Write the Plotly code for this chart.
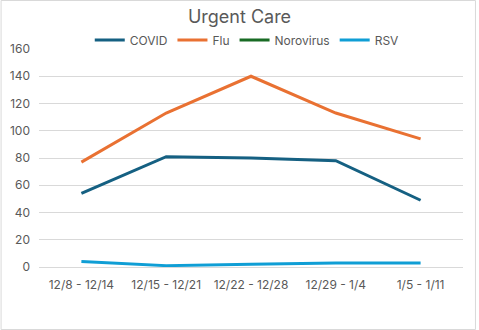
import plotly.graph_objects as go

# Weekly urgent care visit counts by illness
weeks = ["12/8 - 12/14", "12/15 - 12/21", "12/22 - 12/28", "12/29 - 1/4", "1/5 - 1/11"]
covid = [54, 81, 80, 78, 49]
flu = [77, 113, 140, 113, 94]
norovirus = [None, None, None, None, None]
rsv = [4, 1, 2, 3, 3]
y_ticks = [0, 20, 40, 60, 80, 100, 120, 140, 160]

series = [
    ("COVID", covid, "#156082"),
    ("Flu", flu, "#E97132"),
    ("Norovirus", norovirus, "#196B24"),
    ("RSV", rsv, "#0F9ED5"),
]

font_family = "Inter, Open Sans, sans-serif"
text_color = "#595959"
grid_color = "#D9D9D9"

fig = go.Figure()
for name, values, color in series:
    fig.add_trace(go.Scatter(
        x=weeks, y=values, name=name, mode="lines",
        line=dict(color=color, width=3),
        connectgaps=False,
    ))

W, H = 479, 330
ml, mr, mt, mb = 38.5, 15.5, 49, 63
pw, ph = W - ml - mr, H - mt - mb

fig.update_layout(
    width=W, height=H,
    margin=dict(l=ml, r=mr, t=mt, b=mb, autoexpand=False),
    paper_bgcolor="white", plot_bgcolor="white",
    font=dict(family=font_family, size=12, color=text_color),
    title=dict(text="Urgent Care", x=0.5, xanchor="center", y=1 - 17 / H, yanchor="middle",
               font=dict(size=18, color=text_color, family=font_family)),
    legend=dict(orientation="h", x=0.49, xanchor="center", y=(H - mb - 40) / ph, yanchor="middle",
                font=dict(size=12, color=text_color), itemwidth=30, tracegroupgap=0,
                bgcolor="rgba(0,0,0,0)"),
    showlegend=True,
    xaxis=dict(range=[-0.5, len(weeks) - 0.5], showgrid=False, showline=True,
               linecolor=grid_color, linewidth=1, ticklabelstandoff=7,
               ticks="", tickfont=dict(size=12, color=text_color), fixedrange=True),
    yaxis=dict(range=[0, 160], tickvals=y_ticks, showgrid=True, gridcolor=grid_color,
               gridwidth=1, zeroline=False, showline=False, ticks="",
               ticklabelstandoff=8, tickfont=dict(size=12, color=text_color), fixedrange=True),
    shapes=[dict(type="rect", xref="paper", yref="paper",
                 x0=(0.5 - ml) / pw, x1=(476 - ml) / pw,
                 y0=(H - mb - 329.5) / ph, y1=(H - mb - 0.5) / ph,
                 line=dict(color=grid_color, width=1), fillcolor="rgba(0,0,0,0)", layer="below")],
)

fig.write_html("out.html")
